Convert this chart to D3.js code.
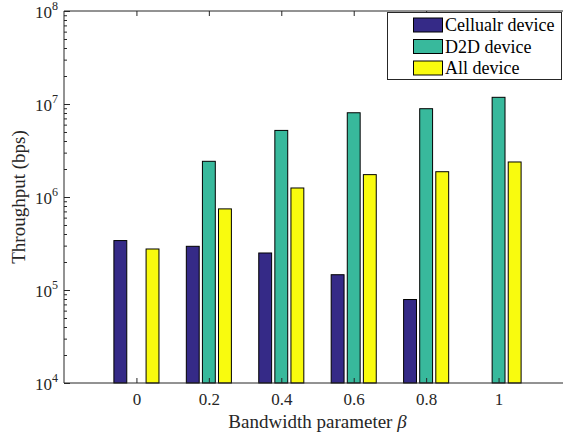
<!DOCTYPE html>
<html>
<head>
<meta charset="utf-8">
<script src="https://cdn.jsdelivr.net/npm/d3@7"></script>
<style>
  html, body { margin: 0; padding: 0; background: #fff; }
  svg text { font-family: "Liberation Serif", "Times New Roman", Times, serif !important; }
</style>
</head>
<body>
<svg id="chart" width="563" height="434"></svg>
<script>
// Bandwidth parameter values (x categories)
const categories = ["0", "0.2", "0.4", "0.6", "0.8", "1"];
const seriesNames = ["Cellualr device", "D2D device", "All device"];
// Throughput in bps; null = no bar drawn
const cellular = [3.4e5, 2.95e5, 2.5e5, 1.46e5, 7.9e4, null];
const d2d      = [null, 2.42e6, 5.2e6, 8.05e6, 8.9e6, 1.18e7];
const allDev   = [2.76e5, 7.45e5, 1.25e6, 1.74e6, 1.87e6, 2.38e6];
const yTickExps = [4, 5, 6, 7, 8];

const series = [cellular, d2d, allDev];
const colors = ["#352a87", "#38b99c", "#f9fb0e"];

const svg = d3.select("#chart");
const plotL = 64, plotR = 571, plotT = 11, plotB = 383;
const axisColor = "#262626";

const x = d3.scaleLinear().domain([0, categories.length + 1]).range([plotL, plotR]);
const y = d3.scaleLog().domain([1e4, 1e8]).range([plotB, plotT]);

// grouped bar geometry (three series per category)
const groupWidth = Math.min(0.8, 3 / (3 + 1.5));
const step = groupWidth / 3;
const barW = step * 0.8;

const bars = svg.append("g");
series.forEach((vals, s) => {
  const offset = (s - 1) * step;
  vals.forEach((v, i) => {
    if (v == null) return;
    const cx = i + 1 + offset;
    bars.append("rect")
      .attr("x", x(cx - barW / 2))
      .attr("width", x(cx + barW / 2) - x(cx - barW / 2))
      .attr("y", y(v))
      .attr("height", y(1e4) - y(v))
      .attr("fill", colors[s])
      .attr("stroke", "#000")
      .attr("stroke-width", 1);
  });
});

// axes box
const axes = svg.append("g").attr("fill", "none").attr("stroke", axisColor).attr("stroke-width", 1);
axes.append("path").attr("d", `M${plotL},${plotT}H${plotR}V${plotB}H${plotL}Z`);

// x ticks on bottom and top (inward)
const xTickVals = categories.map((_, i) => i + 1);
const xBottom = d3.axisBottom(x).tickValues(xTickVals).tickSizeInner(-5).tickSizeOuter(0)
  .tickFormat((d) => categories[d - 1]).tickPadding(10);
const gxb = svg.append("g").attr("transform", `translate(0,${plotB})`).call(xBottom);
gxb.select(".domain").remove();
gxb.selectAll("line").attr("stroke", axisColor);
gxb.selectAll("text").attr("font-size", 17).attr("fill", "#262626");

const xTop = d3.axisTop(x).tickValues(xTickVals).tickSizeInner(-5).tickSizeOuter(0).tickFormat("");
const gxt = svg.append("g").attr("transform", `translate(0,${plotT})`).call(xTop);
gxt.select(".domain").remove();
gxt.selectAll("line").attr("stroke", axisColor);

// y ticks: major and minor, on left and right (inward)
const minorVals = [];
yTickExps.slice(0, -1).forEach((e) => { for (let k = 2; k <= 9; k++) minorVals.push(k * Math.pow(10, e)); });
const majorVals = yTickExps.map((e) => Math.pow(10, e));

[[plotL, 1], [plotR, -1]].forEach(([px, dir]) => {
  const gMaj = svg.append("g").attr("transform", `translate(${px},0)`)
    .call((dir > 0 ? d3.axisLeft(y) : d3.axisRight(y)).tickValues(majorVals).tickSizeInner(-6).tickSizeOuter(0).tickFormat(""));
  gMaj.select(".domain").remove();
  gMaj.selectAll("line").attr("stroke", axisColor);
  const gMin = svg.append("g").attr("transform", `translate(${px},0)`)
    .call((dir > 0 ? d3.axisLeft(y) : d3.axisRight(y)).tickValues(minorVals).tickSizeInner(-3).tickSizeOuter(0).tickFormat(""));
  gMin.select(".domain").remove();
  gMin.selectAll("line").attr("stroke", axisColor);
});

// y tick labels as 10 with superscript exponent
const yl = svg.append("g").attr("fill", "#262626").attr("font-size", 17);
yTickExps.forEach((e) => {
  const t = yl.append("text").attr("x", 58).attr("y", y(Math.pow(10, e)) + 7).attr("text-anchor", "end");
  t.append("tspan").text("10");
  t.append("tspan").attr("font-size", 12).attr("dy", -8).text(String(e));
});

// axis titles
const xt = svg.append("text").attr("x", (plotL + plotR) / 2).attr("y", 428)
  .attr("text-anchor", "middle").attr("font-size", 19).attr("fill", "#262626");
xt.append("tspan").text("Bandwidth parameter ");
xt.append("tspan").attr("font-style", "italic").text("β");

svg.append("text").attr("transform", `translate(25,${(plotT + plotB) / 2}) rotate(-90)`)
  .attr("text-anchor", "middle").attr("font-size", 19).attr("fill", "#262626")
  .text("Throughput (bps)");

// legend
const lg = svg.append("g");
lg.append("rect").attr("x", 387.5).attr("y", 12.5).attr("width", 174).attr("height", 67)
  .attr("fill", "#fff").attr("stroke", axisColor).attr("stroke-width", 1);
seriesNames.forEach((name, i) => {
  const cy = 25 + i * 21.5;
  lg.append("rect").attr("x", 413.5).attr("y", cy - 7).attr("width", 29).attr("height", 14)
    .attr("fill", colors[i]).attr("stroke", "#000");
  lg.append("text").attr("x", 445).attr("y", cy + 6).attr("font-size", 18).attr("fill", "#000").text(name);
});
</script>
</body>
</html>
